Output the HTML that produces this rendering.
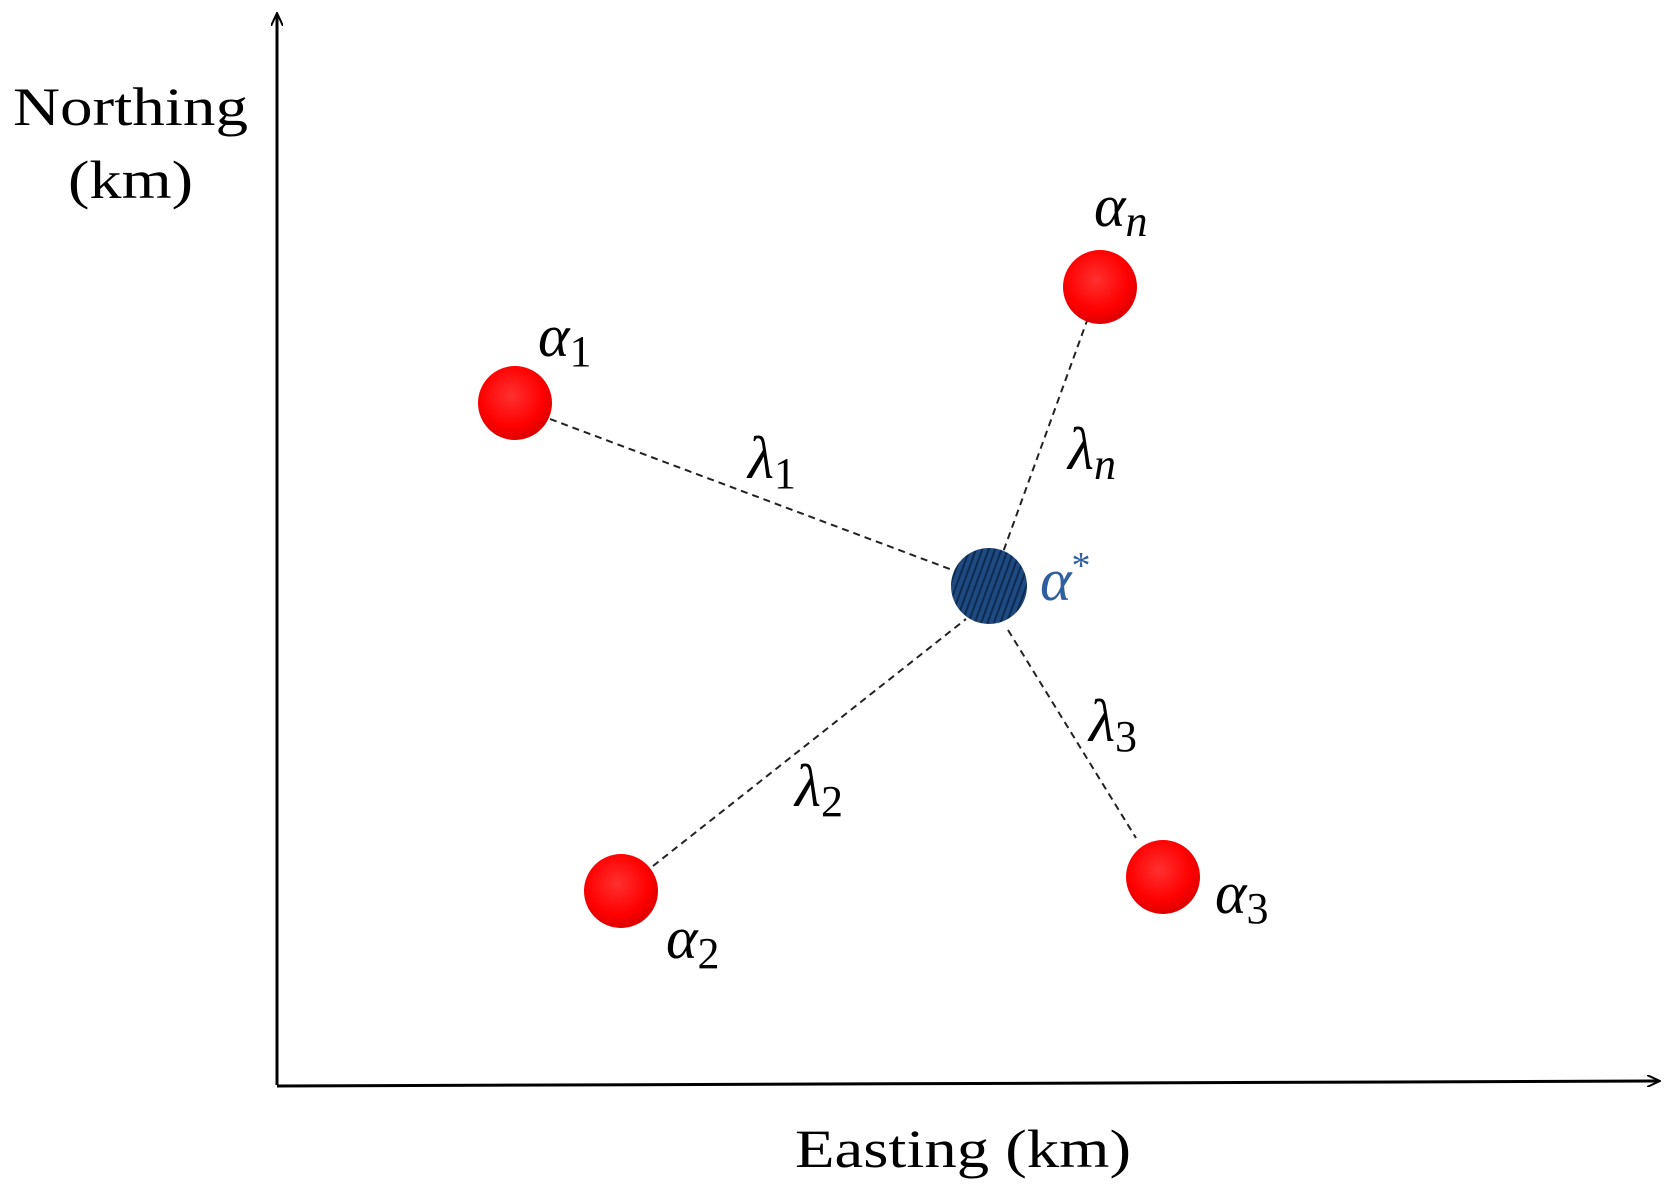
<!DOCTYPE html>
<html><head><style>html,body{margin:0;padding:0;background:#fff}svg{display:block}</style></head>
<body>
<svg width="1673" height="1195" viewBox="0 0 1673 1195" xmlns="http://www.w3.org/2000/svg">
<defs>
<radialGradient id="r" cx="0.45" cy="0.4" r="0.6">
<stop offset="0" stop-color="#ff3030"/><stop offset="0.7" stop-color="#f00"/><stop offset="1" stop-color="#d00"/>
</radialGradient>
<pattern id="h" width="6" height="6" patternUnits="userSpaceOnUse" patternTransform="rotate(20)">
<rect width="6" height="6" fill="#1f4a80"/><rect width="2" height="6" fill="#0d2a52"/>
</pattern>
<marker id="a" markerWidth="14" markerHeight="12" refX="12" refY="6" orient="auto" markerUnits="userSpaceOnUse">
<path d="M0,0 L13,6 L0,12" fill="none" stroke="#000" stroke-width="2"/>
</marker>
</defs>
<line x1="277" y1="1085" x2="277" y2="14" stroke="#000" stroke-width="3" marker-end="url(#a)"/>
<line x1="277" y1="1086" x2="1659" y2="1081" stroke="#000" stroke-width="3" marker-end="url(#a)"/>
<g stroke="#222" stroke-width="2" stroke-dasharray="7,5">
<line x1="550" y1="419" x2="955" y2="571"/>
<line x1="1088" y1="318" x2="1002" y2="555"/>
<line x1="653" y1="866" x2="966" y2="619"/>
<line x1="1008" y1="630" x2="1136" y2="838"/>
</g>
<circle cx="515" cy="403" r="37" fill="url(#r)"/>
<circle cx="1100" cy="287" r="37" fill="url(#r)"/>
<circle cx="621" cy="891" r="37" fill="url(#r)"/>
<circle cx="1163" cy="877" r="37" fill="url(#r)"/>
<circle cx="989" cy="586" r="38" fill="url(#h)"/>
<g font-family="Liberation Serif, serif" fill="#000">
<text x="13" y="125" font-size="54" textLength="235" lengthAdjust="spacingAndGlyphs">Northing</text>
<text x="68" y="198" font-size="54" textLength="125" lengthAdjust="spacingAndGlyphs">(km)</text>
<text x="795" y="1167" font-size="54" textLength="336" lengthAdjust="spacingAndGlyphs">Easting (km)</text>
<g font-style="italic" font-size="60">
<text x="538" y="356">α<tspan font-size="44" font-style="normal" dy="10">1</tspan></text>
<text x="1094" y="226">α<tspan font-size="44" dy="10">n</tspan></text>
<text x="666" y="958">α<tspan font-size="44" font-style="normal" dy="10">2</tspan></text>
<text x="1215" y="913">α<tspan font-size="44" font-style="normal" dy="10">3</tspan></text>
<text x="748" y="478">λ<tspan font-size="44" font-style="normal" dy="10">1</tspan></text>
<text x="1068" y="469">λ<tspan font-size="44" dy="10">n</tspan></text>
<text x="1089" y="741">λ<tspan font-size="44" font-style="normal" dy="10">3</tspan></text>
<text x="795" y="806">λ<tspan font-size="44" font-style="normal" dy="10">2</tspan></text>
<text x="1040" y="600" fill="#2f5f9e">α<tspan font-size="38" font-style="normal" dy="-22">*</tspan></text>
</g>
</g>
</svg>
</body></html>
